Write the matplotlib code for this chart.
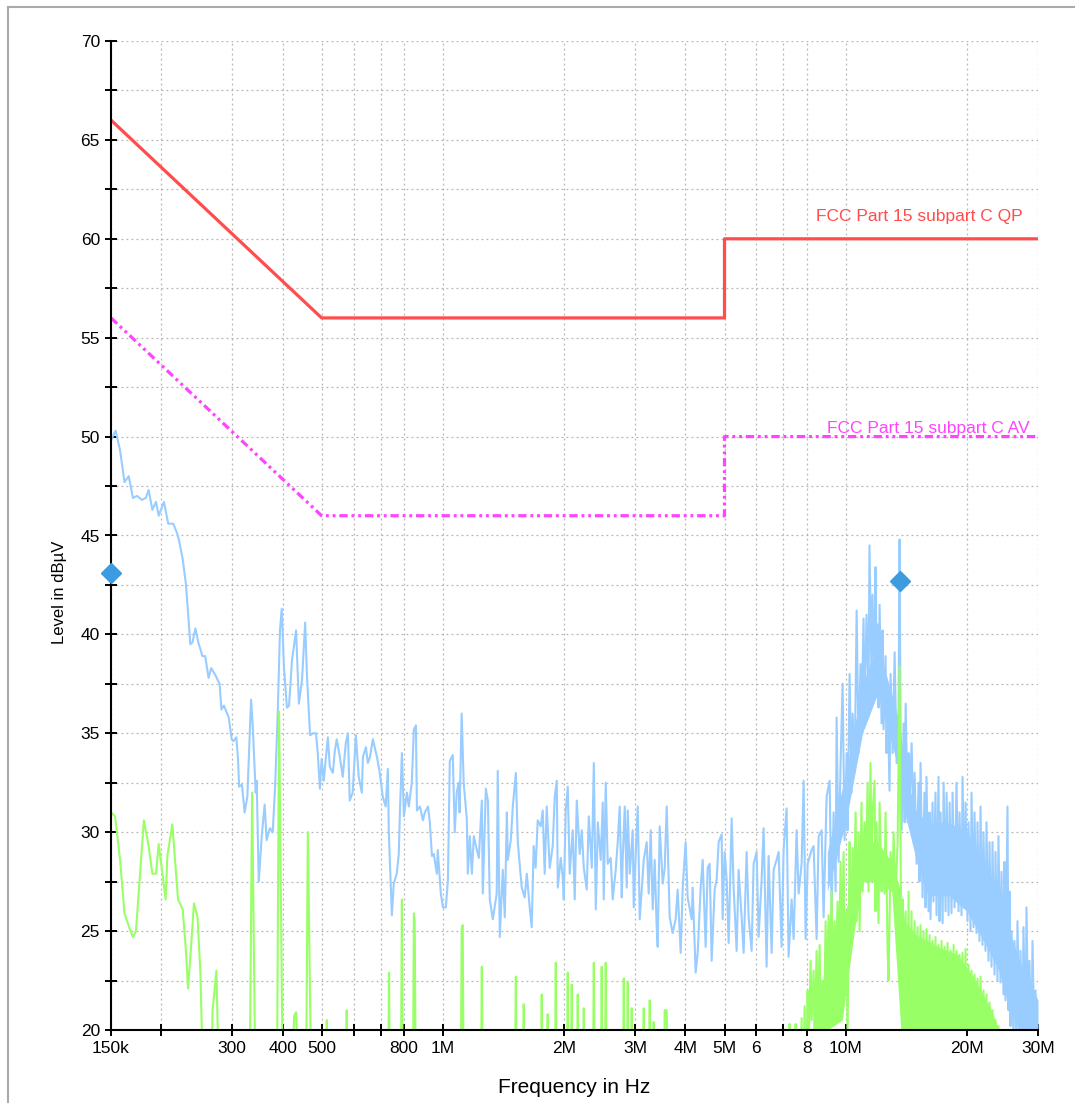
import matplotlib
matplotlib.use("Agg")
import matplotlib.pyplot as plt
from matplotlib.lines import Line2D
from matplotlib.ticker import FixedLocator, FixedFormatter, MultipleLocator, FuncFormatter

plt.rcParams['font.family'] = ['Liberation Sans', 'DejaVu Sans']

# Peak detector scan, frequency in MHz, level in dBuV
peak_freq = [
    0.150, 0.154, 0.158, 0.162, 0.166, 0.170, 0.174, 0.179, 0.183, 0.186, 0.190, 0.194, 0.197,
    0.203, 0.208, 0.214, 0.219, 0.221, 0.226, 0.230, 0.233, 0.236, 0.239, 0.243, 0.247, 0.253,
    0.257, 0.262, 0.266, 0.273, 0.279, 0.282, 0.286, 0.294, 0.299, 0.302, 0.307, 0.310, 0.312,
    0.317, 0.322, 0.327, 0.334, 0.337, 0.343, 0.345, 0.349, 0.355, 0.361, 0.365, 0.372, 0.378,
    0.383, 0.389, 0.394, 0.398, 0.403, 0.410, 0.415, 0.422, 0.432, 0.439, 0.447, 0.455, 0.460,
    0.468, 0.476, 0.484, 0.489, 0.495, 0.500, 0.506, 0.518, 0.524, 0.533, 0.539, 0.545, 0.555,
    0.564, 0.574, 0.581, 0.587, 0.597, 0.608, 0.618, 0.629, 0.633, 0.644, 0.651, 0.659, 0.670,
    0.686, 0.697, 0.709, 0.721, 0.730, 0.734, 0.747, 0.755, 0.768, 0.777, 0.782, 0.791, 0.800,
    0.814, 0.823, 0.837, 0.847, 0.857, 0.862, 0.877, 0.892, 0.902, 0.918, 0.928, 0.939, 0.949,
    0.966, 0.971, 0.988, 1.000, 1.017, 1.029, 1.040, 1.058, 1.070, 1.082, 1.094, 1.100, 1.113,
    1.126, 1.146, 1.153, 1.166, 1.180, 1.193, 1.214, 1.228, 1.249, 1.256, 1.278, 1.293, 1.307,
    1.330, 1.360, 1.368, 1.384, 1.408, 1.424, 1.441, 1.449, 1.474, 1.491, 1.517, 1.534, 1.569,
    1.596, 1.615, 1.642, 1.661, 1.680, 1.699, 1.719, 1.749, 1.769, 1.789, 1.810, 1.841, 1.873,
    1.895, 1.917, 1.928, 1.961, 1.984, 1.995, 2.018, 2.041, 2.064, 2.100, 2.124, 2.149, 2.186,
    2.211, 2.237, 2.275, 2.302, 2.342, 2.369, 2.396, 2.424, 2.464, 2.493, 2.507, 2.536, 2.565,
    2.609, 2.639, 2.685, 2.716, 2.747, 2.779, 2.795, 2.827, 2.859, 2.876, 2.909, 2.959, 2.976,
    3.010, 3.045, 3.080, 3.115, 3.151, 3.205, 3.242, 3.279, 3.317, 3.355, 3.393, 3.413, 3.452,
    3.512, 3.552, 3.593, 3.655, 3.718, 3.782, 3.825, 3.892, 3.937, 4.004, 4.050, 4.144, 4.168,
    4.240, 4.289, 4.363, 4.413, 4.489, 4.541, 4.593, 4.646, 4.726, 4.780, 4.836, 4.919, 4.947,
    5.004, 5.062, 5.120, 5.208, 5.268, 5.359, 5.420, 5.514, 5.577, 5.674, 5.739, 5.838, 5.905,
    6.007, 6.076, 6.181, 6.252, 6.360, 6.433, 6.545, 6.620, 6.734, 6.812, 6.930, 7.009, 7.130,
    7.212, 7.338, 7.422, 7.550, 7.637, 7.769, 7.859, 7.949, 8.041, 8.226, 8.321, 8.464, 8.562,
    8.710, 8.810, 8.962, 9.117, 9.222, 9.328, 9.435, 9.489, 9.598, 9.708, 9.819, 9.932, 10.05,
    10.10, 10.22, 10.34, 10.40, 10.52, 10.64, 10.76, 10.88, 10.94, 11.07, 11.13, 11.26, 11.39,
    11.45, 11.58, 11.65, 11.78, 11.85, 11.92, 11.99, 12.06, 12.13, 12.27, 12.34, 12.41, 12.55,
    12.62, 12.70, 12.84, 12.92, 13.07, 13.22, 13.37, 13.52, 13.60, 13.68, 13.76, 13.92, 14.00,
    14.08, 14.24, 14.32, 14.40, 14.57, 14.73, 14.82, 14.99, 15.16, 15.24, 15.33, 15.51, 15.68,
    15.78, 15.86, 16.05, 16.14, 16.23, 16.42, 16.51, 16.70, 16.80, 16.99, 17.09, 17.19, 17.39,
    17.49, 17.69, 17.79, 17.99, 18.10, 18.30, 18.41, 18.62, 18.83, 19.05, 19.16, 19.38, 19.49,
    19.71, 19.83, 20.05, 20.17, 20.40, 20.52, 20.75, 20.87, 21.11, 21.23, 21.47, 21.60, 21.85,
    21.97, 22.22, 22.35, 22.61, 22.74, 23.00, 23.13, 23.40, 23.53, 23.80, 23.93, 24.21, 24.35,
    24.63, 24.77, 24.91, 25.20, 25.35, 25.49, 25.64, 25.79, 26.08, 26.23, 26.53, 26.68, 26.99,
    27.14, 27.45, 27.61, 27.93, 28.09, 28.41, 28.57, 28.90, 29.07, 29.40, 29.57, 29.91, 30.00,
]
peak_level = [
    49.8, 50.3, 49.3, 47.7, 48.0, 46.9, 47.0, 46.8, 46.9, 47.3, 46.3, 46.7, 46.0,
    46.7, 45.6, 45.6, 45.1, 44.8, 43.8, 42.6, 41.1, 39.5, 39.6, 40.3, 39.6, 38.9,
    38.9, 37.8, 38.3, 37.9, 37.5, 36.2, 36.4, 35.8, 34.7, 34.6, 34.8, 33.7, 32.3,
    32.4, 31.0, 31.8, 36.7, 35.5, 32.0, 32.6, 27.5, 29.8, 31.4, 29.6, 30.2, 30.0,
    32.2, 36.0, 40.2, 41.3, 38.4, 36.3, 36.4, 38.7, 40.2, 36.5, 37.7, 40.6, 37.8,
    34.9, 35.0, 35.0, 34.0, 32.2, 33.7, 32.6, 34.8, 33.3, 33.0, 34.1, 34.7, 33.8,
    32.8, 34.5, 35.0, 31.6, 32.0, 34.9, 32.8, 32.0, 33.8, 34.3, 33.5, 33.8, 34.7,
    33.8, 33.0, 31.8, 31.3, 33.2, 30.0, 25.8, 27.4, 27.9, 28.9, 31.0, 34.0, 30.8,
    32.0, 31.3, 32.5, 35.2, 35.4, 31.1, 31.3, 30.6, 31.0, 31.3, 30.5, 28.8, 28.9,
    27.9, 29.1, 26.9, 26.2, 26.2, 27.6, 33.6, 33.9, 30.0, 32.0, 32.5, 31.0, 36.0,
    32.5, 30.7, 27.9, 29.8, 27.9, 29.8, 29.1, 28.7, 31.6, 26.9, 32.2, 31.6, 26.6,
    25.6, 26.9, 33.1, 24.7, 28.1, 25.7, 31.0, 28.6, 29.6, 31.3, 33.0, 29.5, 27.2,
    26.7, 27.9, 26.2, 25.2, 29.3, 28.2, 30.6, 30.3, 31.1, 27.9, 31.3, 28.2, 29.3,
    31.8, 32.6, 27.2, 28.7, 27.7, 26.6, 31.1, 32.3, 27.9, 30.1, 26.6, 31.6, 28.9,
    30.1, 28.2, 27.1, 30.8, 28.2, 33.5, 26.1, 30.5, 28.6, 31.5, 26.6, 32.5, 28.4,
    28.7, 26.6, 28.1, 29.5, 31.3, 26.7, 28.7, 31.3, 27.2, 31.1, 27.9, 30.1, 26.2,
    28.9, 31.3, 25.6, 27.1, 28.6, 29.5, 26.9, 30.1, 26.1, 28.6, 25.2, 24.2, 30.3,
    27.4, 28.2, 31.3, 25.7, 24.9, 25.6, 27.1, 23.9, 27.2, 29.5, 26.7, 25.6, 27.2,
    22.9, 23.9, 27.2, 28.6, 24.2, 28.2, 28.4, 23.5, 27.1, 27.6, 29.5, 29.9, 25.6,
    29.0, 27.6, 24.4, 30.7, 27.2, 24.0, 28.1, 25.7, 23.9, 29.0, 25.7, 24.0, 28.4,
    29.0, 24.7, 27.6, 30.2, 23.2, 28.8, 23.9, 28.1, 28.6, 29.0, 24.2, 29.1, 31.2,
    23.7, 26.6, 24.6, 30.1, 26.9, 28.4, 32.6, 24.6, 28.4, 29.1, 29.3, 24.6, 29.8,
    30.1, 25.7, 31.8, 32.6, 25.9, 31.0, 27.0, 35.8, 28.5, 33.5, 37.5, 29.6, 34.0,
    30.1, 38.0, 32.0, 36.0, 33.0, 41.2, 34.0, 38.5, 35.2, 40.8, 36.0, 41.0, 36.8,
    44.5, 38.0, 42.0, 37.5, 43.4, 38.9, 40.5, 36.3, 41.5, 35.5, 40.2, 35.2, 38.9,
    34.0, 37.0, 32.1, 38.0, 34.0, 39.1, 33.5, 36.0, 44.8, 34.3, 30.1, 35.5, 30.5,
    36.5, 30.5, 34.0, 31.5, 34.5, 29.5, 33.0, 28.4, 32.5, 27.5, 33.5, 26.7, 32.0,
    26.2, 32.8, 26.0, 31.0, 25.6, 31.5, 26.5, 32.0, 25.8, 32.8, 25.5, 31.0, 25.4,
    32.5, 26.0, 32.0, 25.8, 31.5, 25.9, 32.0, 26.2, 32.5, 26.0, 31.0, 25.8, 32.8,
    26.2, 31.5, 25.5, 30.5, 25.0, 32.0, 25.2, 31.0, 24.9, 30.5, 24.5, 31.3, 24.3,
    30.0, 24.0, 30.5, 23.5, 29.5, 23.2, 29.5, 22.8, 29.0, 22.5, 29.8, 22.4, 28.0,
    21.8, 28.5, 21.5, 31.3, 21.0, 27.0, 20.2, 25.0, 19.5, 24.5, 19.0, 25.5, 19.0,
    24.0, 19.0, 25.2, 19.0, 26.2, 19.0, 23.5, 19.0, 24.5, 19.0, 22.0, 19.5, 21.5,
]

# Solid core of the peak trace where the sweep points merge into a band
peak_band_freq = [9.0, 10.0, 11.0, 12.0, 13.0, 13.6, 14.0, 15.0, 16.0, 18.0, 20.0, 22.0,
                  24.0, 25.5, 27.0, 30.0]
peak_band_low = [27.0, 30.5, 35.0, 37.0, 34.5, 33.0, 31.0, 28.5, 26.8, 26.8, 26.0, 24.5,
                 23.0, 21.0, 20.0, 20.0]
peak_band_high = [29.0, 33.0, 37.5, 39.5, 37.0, 35.5, 33.0, 31.0, 30.5, 30.5, 30.0, 28.5,
                  27.0, 25.0, 23.5, 21.5]

# Average detector scan (values under 20 dBuV are off the chart)
avg_freq = [
    0.150, 0.1535, 0.158, 0.162, 0.167, 0.170, 0.173, 0.181, 0.186, 0.190, 0.194, 0.197,
    0.205, 0.207, 0.213, 0.220, 0.226, 0.230, 0.233, 0.237, 0.241, 0.246, 0.250, 0.255,
    0.266, 0.268, 0.274, 0.279, 0.331, 0.336, 0.343, 0.387, 0.392, 0.401, 0.422, 0.427,
    0.432, 0.441, 0.457, 0.462, 0.472, 0.512, 0.515, 0.518, 0.574, 0.577, 0.581, 0.731,
    0.735, 0.739, 0.786, 0.791, 0.795, 0.842, 0.847, 0.851, 0.857, 1.107, 1.113, 1.120,
    1.126, 1.242, 1.249, 1.256, 1.508, 1.517, 1.526, 1.578, 1.587, 1.596, 1.749, 1.759,
    1.769, 1.810, 1.820, 1.831, 1.895, 1.906, 1.917, 2.029, 2.041, 2.052, 2.076, 2.088,
    2.100, 2.149, 2.161, 2.174, 2.224, 2.237, 2.250, 2.355, 2.369, 2.382, 2.464, 2.478,
    2.493, 2.521, 2.536, 2.550, 2.795, 2.811, 2.827, 2.859, 2.876, 2.892, 2.925, 2.942,
    2.959, 3.133, 3.151, 3.169, 3.242, 3.261, 3.279, 3.317, 3.336, 3.355, 3.532, 3.552,
    3.593, 3.614, 7.212, 7.254, 7.296, 7.465, 7.507, 7.550,
    7.681, 7.769, 7.814, 7.904, 7.949, 8.041, 8.087, 8.179, 8.226, 8.321, 8.368, 8.464,
    8.513, 8.611, 8.660, 8.760, 8.810, 8.911, 8.962, 9.065, 9.117, 9.222, 9.274, 9.381,
    9.435, 9.544, 9.598, 9.708, 9.764, 9.876, 9.933, 10.05, 10.10, 10.22, 10.28, 10.40,
    10.46, 10.58, 10.64, 10.76, 10.82, 10.94, 11.01, 11.13, 11.20, 11.33, 11.39, 11.52,
    11.59, 11.65, 11.79, 11.85, 11.92, 12.06, 12.13, 12.27, 12.34, 12.48, 12.55, 12.70,
    12.77, 12.92, 13.07, 13.14, 13.29, 13.45, 13.60, 13.68, 13.76, 13.84, 13.92, 14.08,
    14.16, 14.32, 14.40, 14.56, 14.65, 14.82, 14.90, 15.07, 15.16, 15.33, 15.42, 15.60,
    15.69, 15.86, 15.96, 16.14, 16.23, 16.42, 16.52, 16.70, 16.80, 16.99, 17.09, 17.29,
    17.39, 17.59, 17.69, 17.89, 18.00, 18.20, 18.30, 18.52, 18.62, 18.83, 18.94, 19.16,
    19.27, 19.49, 19.60, 19.83, 19.94, 20.17, 20.28, 20.52, 20.63, 20.87, 20.99, 21.23,
    21.35, 21.60, 21.72, 21.97, 22.10, 22.35, 22.48, 22.74, 22.87, 23.13, 23.26, 23.53,
    23.66, 23.93, 24.07, 30.00,
]
avg_level = [
    31.0, 30.8, 28.6, 25.9, 25.1, 24.7, 25.0, 30.6, 29.3, 27.9, 27.9, 29.4,
    26.6, 28.8, 30.4, 26.6, 26.1, 24.1, 22.1, 24.2, 26.4, 25.7, 22.9, 16.0,
    16.0, 21.0, 23.0, 16.0, 16.0, 32.0, 16.0, 16.0, 36.1, 16.0, 16.0, 20.7,
    20.9, 16.0, 16.0, 30.0, 16.0, 16.0, 20.5, 16.0, 16.0, 21.0, 16.0, 16.0,
    22.9, 16.0, 16.0, 26.6, 16.0, 16.0, 25.9, 25.5, 16.0, 16.0, 25.1, 25.3,
    16.0, 16.0, 23.2, 16.0, 16.0, 22.7, 16.0, 16.0, 21.3, 16.0, 16.0, 21.8,
    16.0, 16.0, 20.8, 16.0, 16.0, 23.4, 16.0, 16.0, 22.9, 16.0, 16.0, 22.3,
    16.0, 16.0, 21.8, 16.0, 16.0, 21.1, 16.0, 16.0, 23.4, 16.0, 16.0, 23.2,
    16.0, 16.0, 23.4, 16.0, 16.0, 22.6, 16.0, 16.0, 22.4, 16.0, 16.0, 21.1,
    16.0, 16.0, 21.1, 16.0, 16.0, 21.5, 16.0, 16.0, 20.4, 16.0, 16.0, 21.0,
    21.0, 16.0, 16.0, 20.3, 16.0, 16.0, 20.3, 16.0,
    16.0, 20.6, 16.0, 21.2, 16.0, 22.0, 19.0, 23.5, 20.5, 23.0, 19.5, 24.0,
    20.0, 24.3, 21.0, 22.5, 19.0, 25.5, 21.5, 25.8, 22.0, 27.0, 22.5, 25.5,
    23.0, 26.5, 22.0, 28.5, 23.0, 29.0, 22.8, 26.0, 19.5, 29.5, 25.0, 29.2,
    26.0, 31.0, 25.5, 30.0, 25.0, 31.5, 27.0, 30.5, 27.5, 32.5, 27.0, 33.5,
    28.0, 31.0, 32.6, 26.0, 30.5, 25.4, 31.5, 27.0, 29.0, 26.9, 31.0, 24.0,
    22.5, 29.0, 27.0, 30.0, 26.7, 29.5, 38.4, 29.1, 21.0, 26.6, 16.0, 26.0,
    16.0, 27.0, 16.0, 26.0, 16.0, 25.5, 16.0, 25.2, 16.0, 25.3, 16.0, 25.0,
    16.0, 25.1, 16.0, 24.8, 16.0, 24.5, 16.0, 24.7, 16.0, 24.3, 16.0, 24.5,
    16.0, 24.2, 16.0, 24.4, 16.0, 24.0, 16.0, 24.3, 16.0, 24.0, 16.0, 23.8,
    16.0, 23.9, 16.0, 24.1, 16.0, 23.3, 16.0, 23.0, 16.0, 22.8, 16.0, 22.6,
    16.0, 22.7, 16.0, 22.0, 16.0, 21.8, 16.0, 21.4, 16.0, 21.0, 16.0, 20.5,
    16.0, 20.2, 16.0, 16.0,
]

# Solid core of the average trace
avg_band_freq = [8.3, 9.0, 9.8, 10.5, 11.0, 12.0, 13.0, 13.7, 14.0, 15.0, 17.0, 19.0,
                 21.0, 23.0, 24.0]
avg_band_low = [20.0, 20.0, 20.5, 25.0, 27.5, 27.5, 27.0, 20.0, 20.0, 20.0, 20.0, 20.0,
                20.0, 20.0, 20.0]
avg_band_high = [21.0, 23.0, 25.5, 27.5, 29.5, 29.5, 28.5, 27.0, 25.5, 24.8, 24.2, 23.8,
                 22.5, 21.0, 20.0]

# Final measurement markers
marker_freq = [0.15, 13.6]
marker_level = [43.1, 42.7]

# FCC Part 15 subpart C limit lines
qp_freq = [0.15, 0.5, 5.0, 5.0, 30.0]
qp_level = [66.0, 56.0, 56.0, 60.0, 60.0]
av_freq = [0.15, 0.5, 5.0, 5.0, 30.0]
av_level = [56.0, 46.0, 46.0, 50.0, 50.0]

xtick_freq = [0.15, 0.2, 0.3, 0.4, 0.5, 0.6, 0.7, 0.8, 1, 2, 3, 4, 5, 6, 7, 8, 10, 20, 30]
xtick_text = ['150k', '', '300', '400', '500', '', '', '800', '1M', '2M', '3M', '4M', '5M',
              '6', '', '8', '10M', '20M', '30M']

blue = '#99ccff'
green = '#99ff66'

fig = plt.figure(figsize=(10.75, 11.03), dpi=100)
ax = fig.add_axes([111 / 1075, 1 - 1030 / 1103, 927 / 1075, 989 / 1103])

ax.fill_between(peak_band_freq, peak_band_low, peak_band_high, color=blue, lw=0, zorder=2)
ax.plot(peak_freq, peak_level, color=blue, lw=1.5, zorder=2)
ax.fill_between(avg_band_freq, avg_band_low, avg_band_high, color=green, lw=0, zorder=3)
ax.plot(avg_freq, avg_level, color=green, lw=1.5, zorder=3)
ax.plot(qp_freq, qp_level, color='#ff4d4d', lw=2.3, zorder=4)
ax.plot(av_freq, av_level, color='#ff44ff', lw=2.3, zorder=4,
        linestyle=(0, (2.6, 1.2, 0.9, 1.2, 0.9, 1.2)))
ax.plot(marker_freq, marker_level, linestyle='none', marker='D', ms=10.5,
        color='#3d9be0', zorder=6, clip_on=False)

ax.text(27.5, 60.9, 'FCC Part 15 subpart C QP', color='#ff4d4d', fontsize=12.5,
        ha='right', va='baseline', zorder=5)
ax.text(28.6, 50.2, 'FCC Part 15 subpart C AV', color='#ff44ff', fontsize=12.5,
        ha='right', va='baseline', zorder=5)

ax.set_xscale('log')
ax.set_xlim(0.15, 30)
ax.set_ylim(20, 70)
ax.xaxis.set_major_locator(FixedLocator(xtick_freq))
ax.xaxis.set_major_formatter(FixedFormatter(xtick_text))
ax.xaxis.set_minor_locator(FixedLocator([]))
ax.yaxis.set_major_locator(MultipleLocator(2.5))
ax.yaxis.set_major_formatter(FuncFormatter(lambda v, pos: f'{v:.0f}' if v % 5 == 0 else ''))

ax.grid(True, color='#b5b5b5', linestyle=(0, (1.5, 2.5)), linewidth=0.9, zorder=0)
ax.set_axisbelow(True)
ax.tick_params(direction='inout', length=8, width=1.4, labelsize=12.5, pad=4)

for side in ['top', 'right']:
    ax.spines[side].set_visible(False)
for side in ['left', 'bottom']:
    ax.spines[side].set_linewidth(1.5)
    ax.spines[side].set_zorder(5)

ax.set_xlabel('Frequency in Hz', fontsize=15, labelpad=16)
ax.set_ylabel('Level in dB\u00b5V', fontsize=12)
ax.yaxis.set_label_coords(-0.047, 0.443)

# light frame round the plot
fig.add_artist(Line2D([8 / 1075, 1.0], [1 - 7 / 1103, 1 - 7 / 1103], color='#aaaaaa', lw=1.5))
fig.add_artist(Line2D([8 / 1075, 8 / 1075], [0.0, 1 - 7 / 1103], color='#aaaaaa', lw=1.5))

fig.savefig('out.png', dpi=100)
